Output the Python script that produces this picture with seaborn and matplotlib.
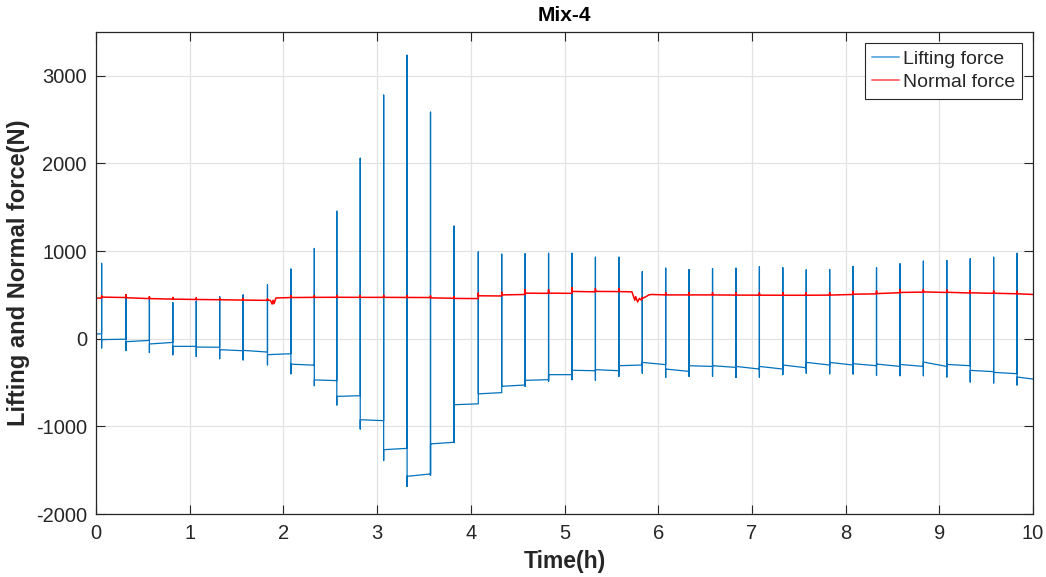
import numpy as np
import pandas as pd
import matplotlib
matplotlib.use("Agg")
import matplotlib.pyplot as plt
import seaborn as sns

# ---------------- data ----------------
start_level = 55.0          # lifting force before first pulse
final_level = -460.0        # lifting force at t = 10 h
end_time = 10.0

spike_t = [0.06, 0.32, 0.57, 0.82, 1.07, 1.32, 1.57, 1.83, 2.08, 2.33,
           2.57, 2.82, 3.07, 3.32, 3.57, 3.82, 4.08, 4.33, 4.58, 4.83,
           5.08, 5.33, 5.58, 5.83, 6.08, 6.33, 6.58, 6.83, 7.08, 7.33,
           7.58, 7.83, 8.08, 8.33, 8.58, 8.83, 9.08, 9.33, 9.58, 9.83]
lift_top = [860, 500, 460, 410, 430, 480, 500, 615, 795, 1030,
            1455, 2060, 2780, 3235, 2585, 1285, 990, 965, 970, 975,
            975, 930, 930, 765, 805, 790, 800, 805, 820, 810,
            785, 790, 825, 810, 855, 885, 893, 912, 930, 975]
lift_bottom = [-105, -135, -158, -183, -202, -228, -242, -298, -400, -536,
               -756, -1030, -1390, -1685, -1560, -1185, -695, -575, -545, -488,
               -468, -475, -430, -392, -441, -430, -430, -441, -437, -410,
               -392, -400, -403, -418, -422, -422, -437, -494, -505, -528]
lift_after = [-10, -34, -60, -87, -95, -125, -133, -182, -290, -470,
              -658, -924, -1266, -1570, -1200, -753, -629, -543, -475, -410,
              -360, -353, -308, -270, -346, -308, -308, -316, -316, -300,
              -270, -270, -285, -289, -293, -266, -293, -361, -384, -437]
lift_end = [-5, -19, -42, -87, -97, -137, -152, -171, -302, -478,
            -650, -935, -1251, -1543, -1182, -743, -615, -528, -467, -410,
            -365, -365, -300, -296, -373, -316, -327, -346, -346, -331,
            -300, -300, -308, -316, -316, -316, -308, -376, -399, -441]

normal_start = 464.0
normal_before = [464, 470, 458, 452, 448, 445, 441, 438, 470, 472,
                 473, 472, 472, 471, 470, 462, 458, 488, 505, 518,
                 518, 535, 538, 455, 500, 500, 500, 498, 497, 496,
                 496, 498, 505, 512, 525, 532, 528, 522, 518, 513]
normal_peak = [490, 500, 480, 470, 465, 460, 460, 455, 490, 492,
               493, 492, 494, 492, 490, 480, 520, 530, 560, 560,
               580, 570, 570, 470, 525, 525, 525, 523, 522, 525,
               525, 525, 540, 545, 560, 560, 555, 550, 545, 540]
normal_after = [475, 468, 458, 452, 448, 445, 441, 440, 470, 472,
                473, 472, 472, 471, 466, 460, 490, 500, 520, 520,
                540, 540, 538, 460, 500, 500, 500, 498, 497, 496,
                496, 498, 508, 515, 528, 534, 530, 524, 519, 513]
normal_final = 505.0
# short disturbances of the normal force
dip_t = [1.86, 1.87, 1.88, 1.89, 1.90, 1.92,
         5.72, 5.74, 5.75, 5.76, 5.78, 5.80, 5.82, 5.87, 5.90, 5.93]
dip_v = [438, 420, 395, 440, 400, 465,
         535, 470, 440, 480, 420, 460, 440, 480, 500, 505]

# ---------------- build the sampled series ----------------
lt, lv = [0.0], [start_level]
lt.append(spike_t[0]); lv.append(start_level)
for k in range(len(spike_t)):
    t = spike_t[k]
    lt += [t, t, t]
    lv += [lift_top[k], lift_bottom[k], lift_after[k]]
    tn = spike_t[k + 1] if k + 1 < len(spike_t) else end_time
    lt.append(tn)
    lv.append(lift_end[k] if k + 1 < len(spike_t) else final_level)
lift_df = pd.DataFrame({"t": lt, "v": lv})

pts = [(0.0, 0, normal_start)]
for k in range(len(spike_t)):
    t = spike_t[k]
    pts += [(t, 0, normal_before[k]), (t, 1, normal_peak[k]), (t, 2, normal_after[k])]
for t, v in zip(dip_t, dip_v):
    pts.append((t, 0, v))
pts.append((end_time, 0, normal_final))
pts.sort(key=lambda p: (p[0], p[1]))
norm_df = pd.DataFrame({"t": [p[0] for p in pts], "v": [p[2] for p in pts]})

# ---------------- plot ----------------
sns.set_theme(style="white")
plt.rcParams["font.family"] = ["Liberation Sans", "DejaVu Sans"]
plt.rcParams["axes.unicode_minus"] = False

fig = plt.figure(figsize=(10.46, 5.77), dpi=100)
ax = fig.add_axes([96 / 1046, 1 - 514 / 577, (1033 - 96) / 1046, (514 - 32) / 577])

sns.lineplot(data=lift_df, x="t", y="v", sort=False, estimator=None,
             color="#0072BD", linewidth=0.9, ax=ax, label="Lifting force")
sns.lineplot(data=norm_df, x="t", y="v", sort=False, estimator=None,
             color="#FF0000", linewidth=1.1, ax=ax, label="Normal force")

ax.set_xlim(0, 10)
ax.set_ylim(-2000, 3500)
ax.set_xticks(np.arange(0, 11, 1))
ax.set_yticks([-2000, -1000, 0, 1000, 2000, 3000])
ax.grid(True, color="#E3E3E3", linewidth=0.9)
ax.set_axisbelow(True)
for s in ax.spines.values():
    s.set_color("#262626")
    s.set_linewidth(0.9)
ax.tick_params(direction="in", length=6.5, width=0.8, colors="#262626",
               labelsize=14.5, top=True, right=True, bottom=True, left=True)
ax.tick_params(axis="x", pad=7)
ax.tick_params(axis="y", pad=6.5)

ax.set_xlabel("Time(h)", fontsize=16.5, fontweight="bold", color="#262626", labelpad=5)
ax.set_ylabel("Lifting and Normal force(N)", fontsize=17, fontweight="bold",
              color="#262626", labelpad=4)
ax.set_title("Mix-4", fontsize=15, fontweight="bold", color="#000000", pad=8)

leg = ax.legend(loc="upper right", fontsize=14, frameon=True, fancybox=False,
                edgecolor="#262626", framealpha=1, handlelength=1.35,
                handletextpad=0.22, borderpad=0.38, labelspacing=0.3,
                borderaxespad=0.55)
leg.get_frame().set_linewidth(0.8)
for h, c in zip(leg.get_lines(), ["#6AAEE0", "#FF6E6E"]):
    h.set_color(c)
    h.set_linewidth(1.4)

fig.savefig("out.png", dpi=100)
